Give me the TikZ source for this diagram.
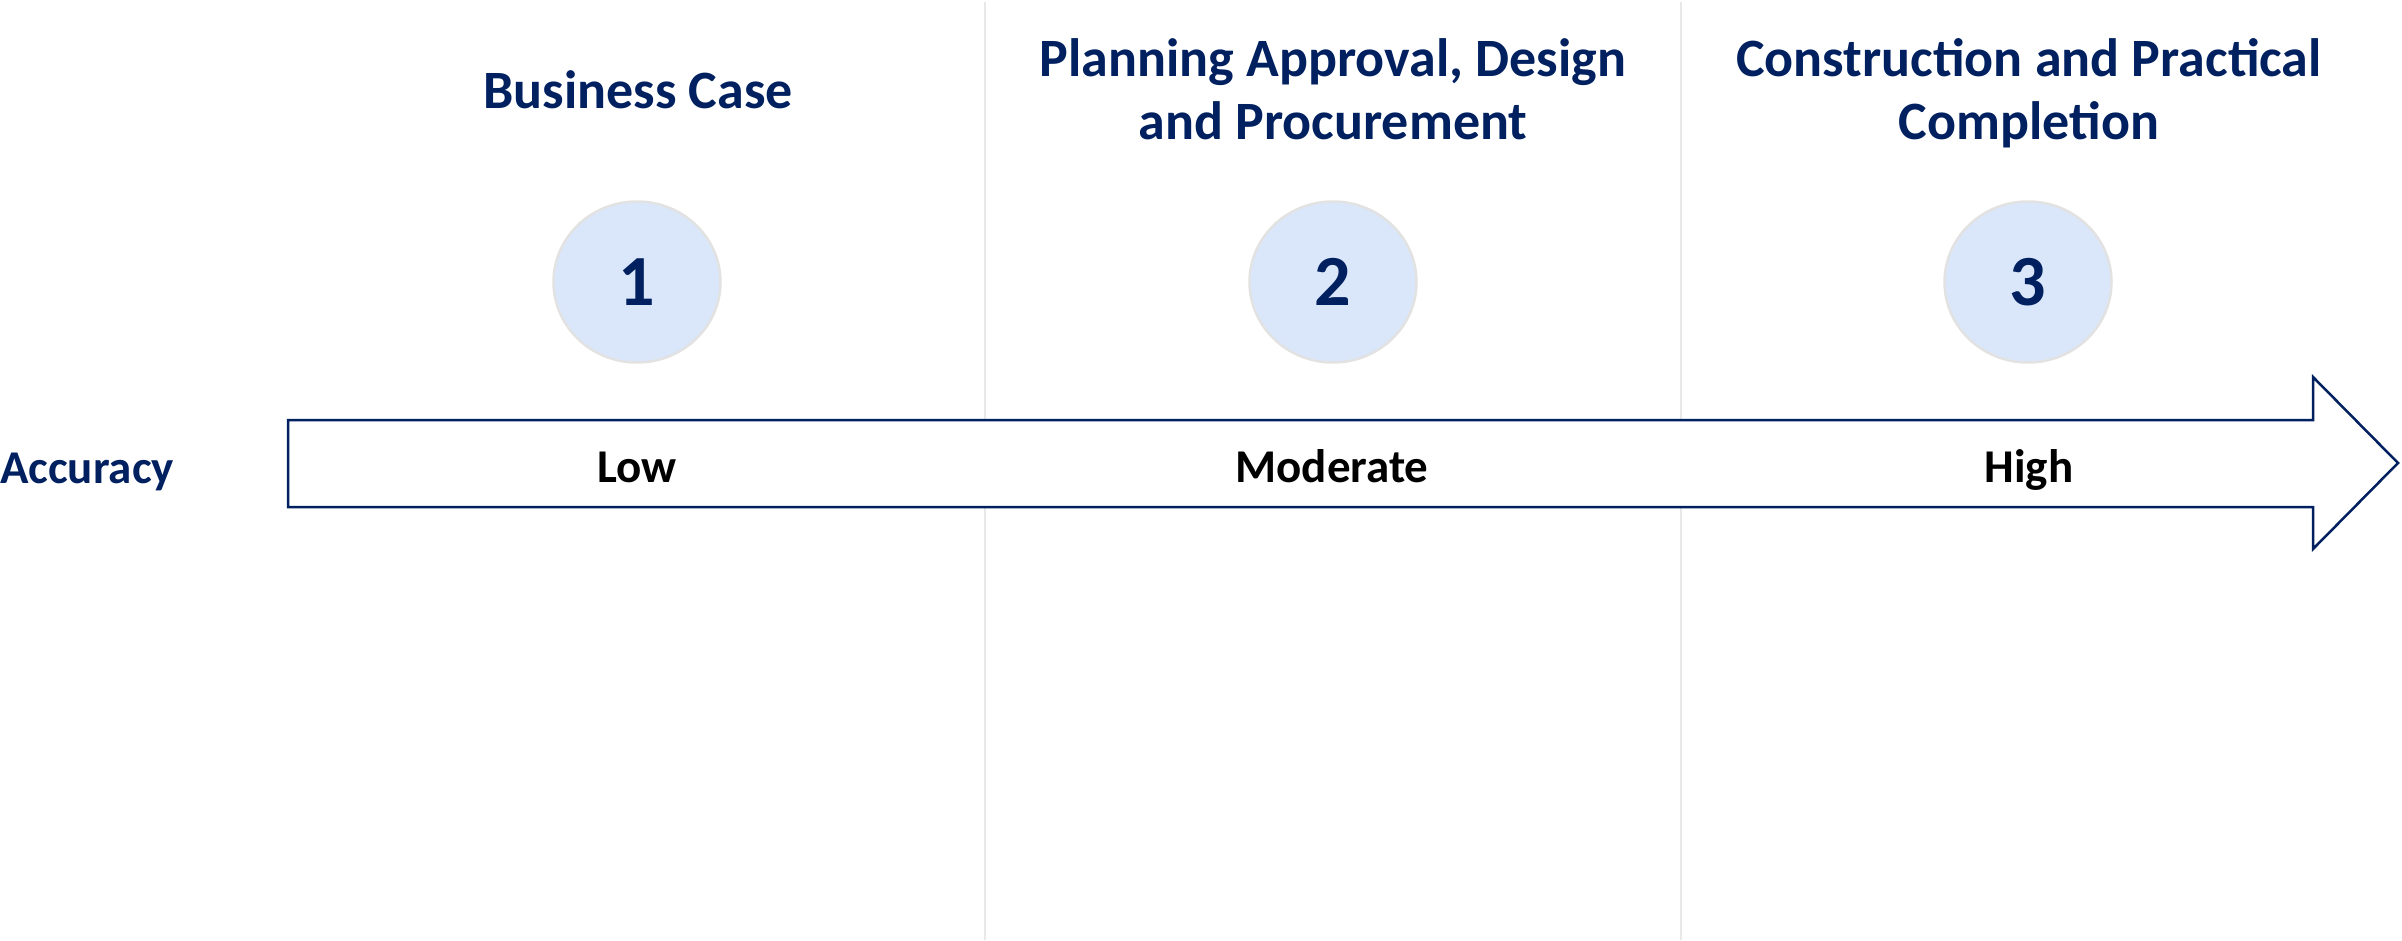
\documentclass[tikz,border=0pt]{standalone}
\usepackage{fontspec}
\setmainfont{Carlito}
\usetikzlibrary{shapes.geometric}
\definecolor{navy}{HTML}{002060}
\definecolor{circfill}{HTML}{DAE7FB}
\definecolor{circline}{HTML}{E2E2E2}
\definecolor{divline}{HTML}{E8E8E8}
\begin{document}
\begin{tikzpicture}[x=1pt,y=-1pt,
  title/.style={font=\fontsize{54}{63}\selectfont\bfseries, text=navy, align=center, inner sep=0pt, anchor=base},
  stepcirc/.style={ellipse, fill=circfill, draw=circline, line width=2.5pt, minimum width=167pt, minimum height=161pt, inner sep=0pt, font=\fontsize{72}{72}\selectfont\bfseries, text=navy},
  level/.style={font=\fontsize{47}{47}\selectfont\bfseries, text=black, inner sep=0pt, anchor=base},
  divider/.style={draw=divline, line width=2pt}]
\useasboundingbox (0,0) rectangle (2402,940);
% dividers
\coordinate (d1t) at (985,2); \coordinate (d1b) at (985,940);
\coordinate (d2t) at (1681,2); \coordinate (d2b) at (1681,940);
\draw[divider] (d1t) -- (d1b);
\draw[divider] (d2t) -- (d2b);
% titles
\node[title] (t1) at (638,108) {Business Case};
\node[title] (t2) at (1333,139) {Planning Approval, Design\\and Procurement};
\node[title] (t3) at (2029,139) {Construction and Practical\\Completion};
% circles
\node[stepcirc] (c1) at (637,282) {1};
\node[stepcirc] (c2) at (1333,282) {2};
\node[stepcirc] (c3) at (2028,282) {3};
% arrow
\draw[draw=navy, fill=white, line width=2.5pt, line join=miter]
  (288,420) -- (2313,420) -- (2313,377) -- (2398,463) -- (2313,549) -- (2313,507) -- (288,507) -- cycle;
% labels
\node[font=\fontsize{47}{47}\selectfont\bfseries, text=navy, inner sep=0pt, anchor=base west] (acc) at (0,483) {Accuracy};
\node[level] (low) at (637,482) {Low};
\node[level] (mod) at (1332,482) {Moderate};
\node[level] (high) at (2029,482) {High};
\end{tikzpicture}
\end{document}
